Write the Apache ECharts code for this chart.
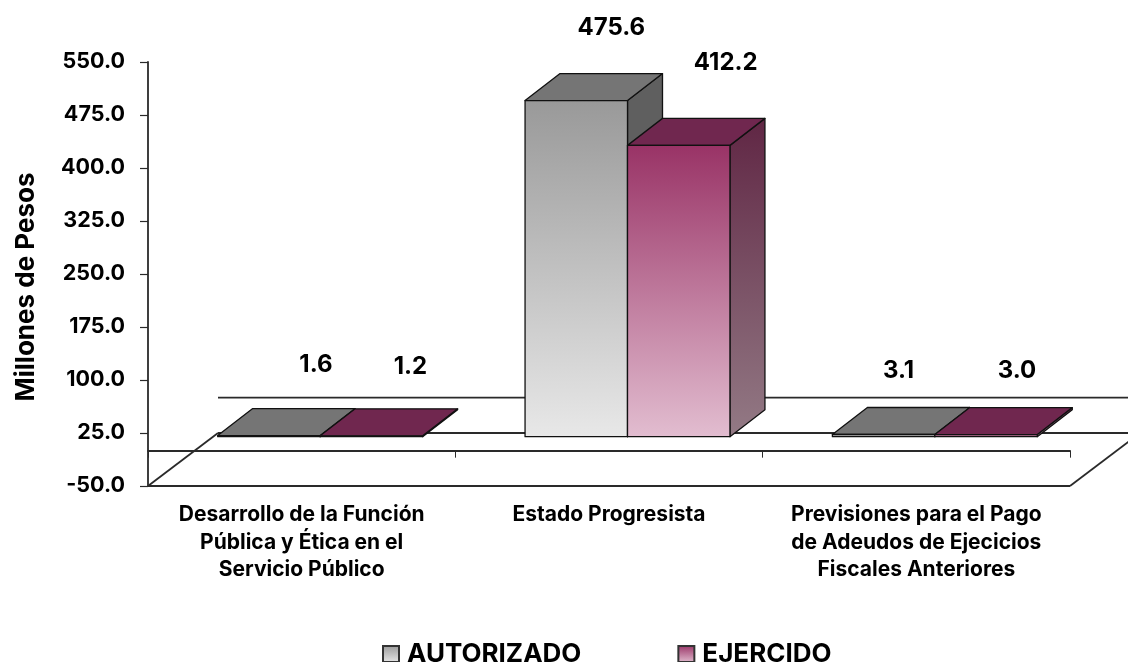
<!DOCTYPE html>
<html><head><meta charset="utf-8">
<style>html,body{margin:0;padding:0;background:#fff}#c{width:1128px;height:662px}</style>
<script src="https://cdn.jsdelivr.net/npm/echarts@6/dist/echarts.min.js"></script>
</head><body><div id="c"></div>
<script>
const categories = ["Desarrollo de la Función\nPública y Ética en el\nServicio Público","Estado Progresista","Previsiones para el Pago\nde Adeudos de Ejecicios\nFiscales Anteriores"];
const autorizado = [1.6, 475.6, 3.1];
const ejercido = [1.2, 412.2, 3.0];
const yTicks = [-50, 25, 100, 175, 250, 325, 400, 475, 550];
const axisTitle = "Millones de Pesos";

const FONT = 'Inter, "Liberation Sans", Arial, sans-serif';
const INK = '#2a2a2a';
const DEPTH = [70, -53];           // whole floor depth, in pixels
const BAR_FRONT = [18.5, -14];     // front face of the bars inside that depth
const BAR_DEPTH = [35, -27];       // depth of a bar
const labelShiftA = [[47,-71],[35,-73],[15,-64]];
const labelShiftE = [[39,-69],[47,-83],[31,-64]];

const chart = echarts.init(document.getElementById('c'), null, {renderer:'canvas'});
const grad = (a,b) => new echarts.graphic.LinearGradient(0,0,0,1,[{offset:0,color:a},{offset:1,color:b}]);

function barRenderer(slot, frontA, frontB, topCol, sideA, sideB, shifts){
  return function(params, api){
    const i = api.value(0), v = api.value(1);
    const base = api.coord([i,0]), tip = api.coord([i,v]);
    const w = api.size([1,0])[0]/3;
    const x0 = base[0] + BAR_FRONT[0] + (slot-1)*w, x1 = x0 + w;
    const yB = base[1] + BAR_FRONT[1], yT = tip[1] + BAR_FRONT[1];
    const dx = BAR_DEPTH[0], dy = BAR_DEPTH[1];
    const edge = {stroke:'#111', lineWidth:1.3, lineJoin:'round'};
    return {type:'group', children:[
      {type:'polygon', shape:{points:[[x1,yB],[x1+dx,yB+dy],[x1+dx,yT+dy],[x1,yT]]}, style:{fill:grad(sideA,sideB),...edge}},
      {type:'polygon', shape:{points:[[x0,yT],[x1,yT],[x1+dx,yT+dy],[x0+dx,yT+dy]]}, style:{fill:topCol,...edge}},
      {type:'polygon', shape:{points:[[x0,yB],[x1,yB],[x1,yT],[x0,yT]]}, style:{fill:grad(frontA,frontB),...edge}},
      {type:'text', style:{text:v.toFixed(1), x:(x0+x1)/2+shifts[i][0], y:yT+shifts[i][1], align:'center', verticalAlign:'middle',
        font:'bold 24px '+FONT, fill:'#000'}}
    ]};
  };
}

function floorRenderer(params, api){
  const a = api.coord([0,-50]), size = api.size([1,0])[0]*3;
  const z = api.coord([0,0]);
  const L = a[0]-size/6, R = L+size;
  const line = (x1,y1,x2,y2)=>({type:'line',shape:{x1,y1,x2,y2},style:{stroke:INK,lineWidth:1.8}});
  return {type:'group',children:[
    line(L,a[1],R,a[1]),
    line(L,a[1],L+DEPTH[0],a[1]+DEPTH[1]),
    line(R,a[1],R+DEPTH[0],a[1]+DEPTH[1]),
    line(L+DEPTH[0],a[1]+DEPTH[1],R+DEPTH[0],a[1]+DEPTH[1]),
    line(L+DEPTH[0],z[1]+DEPTH[1],R+DEPTH[0],z[1]+DEPTH[1])
  ]};
}

const gA = grad('#999999','#e8e8e8'), gE = grad('#993366','#e2bdd0');
chart.setOption({
  animation:false,
  backgroundColor:'#fff',
  grid:{left:148, top:62, width:922, height:424, containLabel:false, outerBoundsMode:'none'},
  legend:{left:382, top:641, padding:0, itemWidth:16, itemHeight:16, itemGap:96, icon:'rect',
    data:['AUTORIZADO','EJERCIDO'], textStyle:{fontFamily:FONT,fontWeight:'bold',fontSize:26,color:'#000',padding:[0,0,0,3]}},
  xAxis:{type:'category', data:categories,
    axisLine:{onZero:true,lineStyle:{color:INK,width:1.8}},
    axisTick:{show:true,length:7,alignWithLabel:false,lineStyle:{color:INK,width:1}},
    axisLabel:{interval:0,margin:15,color:'#000',fontFamily:FONT,fontWeight:'bold',fontSize:21,lineHeight:27.5,verticalAlign:'top',align:'center'},
    splitLine:{show:false}},
  yAxis:{type:'value', min:-50, max:550, name:axisTitle, nameLocation:'middle', nameRotate:90, nameGap:109,
    nameTextStyle:{fontFamily:FONT,fontWeight:'bold',fontSize:26,color:'#000',padding:[0,26,0,0]},
    axisLine:{show:true,onZero:false,lineStyle:{color:INK,width:1.8}},
    axisTick:{show:true,length:8,customValues:yTicks,lineStyle:{color:INK,width:1.2}},
    axisLabel:{customValues:yTicks,margin:23,color:'#000',fontFamily:FONT,fontWeight:'bold',fontSize:21.5,formatter:v=>Number(v).toFixed(1)},
    splitLine:{show:false}},
  series:[
    {type:'custom',name:'floor',z:1,silent:true,clip:false,data:[[0,-50]],encode:{x:0,y:1},renderItem:floorRenderer},
    {type:'custom',name:'AUTORIZADO',z:3,clip:false,itemStyle:{color:gA,borderColor:'#333',borderWidth:1.5},
      data:autorizado.map((v,i)=>[i,v]),encode:{x:0,y:1},
      renderItem:barRenderer(0,'#999999','#e8e8e8','#757575','#5f5f5f','#5f5f5f',labelShiftA)},
    {type:'custom',name:'EJERCIDO',z:4,clip:false,itemStyle:{color:gE,borderColor:'#333',borderWidth:1.5},
      data:ejercido.map((v,i)=>[i,v]),encode:{x:0,y:1},
      renderItem:barRenderer(1,'#993366','#e2bdd0','#70274f','#602644','#937a85',labelShiftE)}
  ]
});
</script></body></html>
